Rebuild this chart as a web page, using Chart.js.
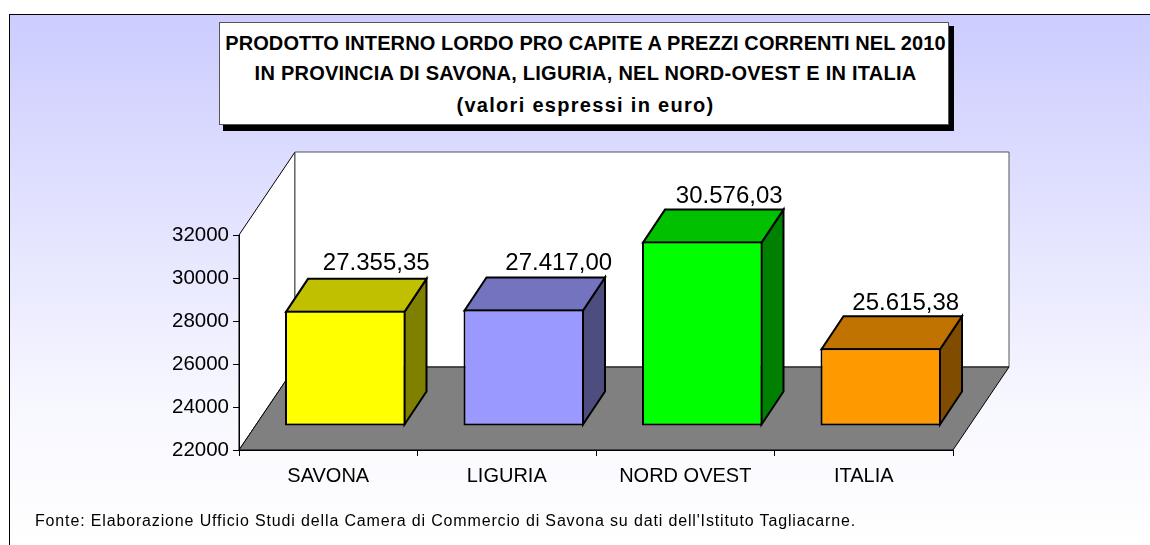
<html>

<head>
  <meta charset="utf-8">
  <title>PIL pro capite 2010</title>
  <style>
    html,
    body {
      margin: 0;
      padding: 0;
      background: #fff;
      overflow: hidden;
    }

    #frame {
      position: absolute;
      left: 9px;
      top: 14px;
      width: 1141px;
      height: 531px;
      border-top: 1px solid #000;
      border-left: 1px solid #000;
      box-sizing: border-box;
      background: linear-gradient(#ccccff 0%, #f7f7ff 73%, #ffffff 100%);
    }

    #chart {
      position: absolute;
      left: 0;
      top: 0;
    }

    #titleShadow {
      position: absolute;
      left: 223px;
      top: 26px;
      width: 731px;
      height: 105px;
      background: #000;
    }

    #titleBox {
      position: absolute;
      left: 219px;
      top: 22px;
      width: 730px;
      height: 103px;
      box-sizing: border-box;
      background: #fff;
      border: 1px solid #555;
      font: bold 20px "Liberation Sans";
      line-height: 30px;
      text-align: center;
      padding-top: 5px;
      padding-left: 3px;
      color: #000;
      white-space: nowrap;
    }

    #titleBox span {
      display: block;
    }

    #source {
      position: absolute;
      left: 35px;
      top: 512px;
      font: 16px "Liberation Sans";
      letter-spacing: 0.85px;
      color: #000;
      white-space: nowrap;
    }
  </style>
  <script src="https://cdn.jsdelivr.net/npm/chart.js@4"></script>
</head>

<body>
  <div id="frame"></div>
  <canvas id="chart" width="1150" height="545"></canvas>
  <div id="titleShadow"></div>
  <div id="titleBox">
    <span style="letter-spacing:0.1px">PRODOTTO INTERNO LORDO PRO CAPITE A PREZZI CORRENTI NEL 2010</span>
    <span style="letter-spacing:0.25px">IN PROVINCIA DI SAVONA, LIGURIA, NEL NORD-OVEST E IN ITALIA</span>
    <span style="letter-spacing:1.3px;padding-top:2px">(valori espressi in euro)</span>
  </div>
  <div id="source">Fonte: Elaborazione Ufficio Studi della Camera di Commercio di Savona su dati dell'Istituto Tagliacarne.</div>

  <script>
    const categories = ['SAVONA', 'LIGURIA', 'NORD OVEST', 'ITALIA'];
    const values = [27355.35, 27417.00, 30576.03, 25615.38];
    const valueLabels = ['27.355,35', '27.417,00', '30.576,03', '25.615,38'];
    const frontColors = ['#ffff00', '#9999ff', '#00ff00', '#ff9900'];
    const topColors = ['#c0c000', '#7373c0', '#00c000', '#c07300'];
    const sideColors = ['#808000', '#4d4d80', '#008000', '#804d00'];

    // 3d look: depth of the whole box and of one bar, in px
    const wallDx = 56, wallDy = 83;
    const barDx = 22, barDy = 33;
    const barShiftX = 17, barShiftY = 24;
    // excel puts the labels a bit differently on each bar
    const labelDx = [31, 35, 27, 25];
    const labelDy = [-14, -13, -12, -12];

    function poly(ctx, pts, fill, stroke, lw) {
      ctx.beginPath();
      pts.forEach(function (p, i) {
        if (i == 0) ctx.moveTo(p[0], p[1]); else ctx.lineTo(p[0], p[1]);
      });
      ctx.closePath();
      if (fill) {
        ctx.fillStyle = fill;
        ctx.fill();
      }
      if (stroke) {
        ctx.strokeStyle = stroke;
        ctx.lineWidth = lw;
        ctx.stroke();
      }
    }

    const box3d = {
      id: 'box3d',
      beforeDraw: function (chart) {
        const ctx = chart.ctx, a = chart.chartArea;
        const l = a.left, r = a.right, t = a.top, b = a.bottom;
        ctx.save();
        poly(ctx, [[l, t], [l + wallDx, t - wallDy], [l + wallDx, b - wallDy], [l, b]], '#fff', '#000', 1);
        poly(ctx, [[l + wallDx, t - wallDy], [r + wallDx, t - wallDy], [r + wallDx, b - wallDy], [l + wallDx, b - wallDy]], '#fff', '#555', 1);
        poly(ctx, [[l, b], [l + wallDx, b - wallDy], [r + wallDx, b - wallDy], [r, b]], '#808080', '#000', 1);
        ctx.restore();
      },
      beforeDatasetDraw: function (chart) {
        const ctx = chart.ctx;
        ctx.save();
        ctx.translate(barShiftX, -barShiftY);
        chart.getDatasetMeta(0).data.forEach(function (bar, i) {
          const x0 = bar.x - bar.width / 2, x1 = bar.x + bar.width / 2;
          poly(ctx, [[x1 - 1, bar.y + 1], [x1 + barDx - 1, bar.y - barDy + 1], [x1 + barDx - 1, bar.base - barDy - 1], [x1 - 1, bar.base - 1]], sideColors[i], '#000', 2);
          poly(ctx, [[x0 + 1, bar.y + 1], [x0 + barDx + 1, bar.y - barDy + 1], [x1 + barDx - 1, bar.y - barDy + 1], [x1 - 1, bar.y + 1]], topColors[i], '#000', 2);
        });
      },
      afterDatasetDraw: function (chart) {
        const ctx = chart.ctx;
        ctx.restore();
        ctx.save();
        ctx.font = '24px "Liberation Sans"';
        ctx.fillStyle = '#000';
        ctx.textAlign = 'center';
        ctx.textBaseline = 'middle';
        chart.getDatasetMeta(0).data.forEach(function (bar, i) {
          ctx.fillText(valueLabels[i], bar.x + barShiftX + labelDx[i], bar.y - barShiftY - barDy + labelDy[i]);
        });
        ctx.restore();
      }
    };

    new Chart(document.getElementById('chart'), {
      type: 'bar',
      plugins: [box3d],
      data: {
        labels: categories,
        datasets: [{
          data: values,
          base: 22000,
          clip: false,
          backgroundColor: frontColors,
          borderColor: '#000',
          borderWidth: 2,
          borderSkipped: false,
          barPercentage: 0.675,
          categoryPercentage: 1
        }]
      },
      options: {
        responsive: false,
        animation: false,
        layout: { padding: { left: 139, right: 197, top: 235, bottom: 45 } },
        plugins: { legend: { display: false }, tooltip: { enabled: false }, title: { display: false } },
        scales: {
          x: {
            afterFit: function (s) { s.height = 50; },
            border: { color: '#000' },
            grid: { display: true, drawOnChartArea: false, color: '#000', tickLength: 6 },
            ticks: { color: '#000', font: { family: 'Liberation Sans', size: 20 }, padding: 8, maxRotation: 0 }
          },
          y: {
            min: 22000,
            max: 32000,
            afterFit: function (s) { s.width = 100; },
            border: { color: '#000' },
            grid: { display: true, drawOnChartArea: false, color: '#000', tickLength: 6 },
            ticks: {
              stepSize: 2000,
              color: '#000',
              font: { family: 'Liberation Sans', size: 20.5 },
              padding: 4,
              callback: function (v) { return String(v); }
            }
          }
        }
      }
    });
  </script>
</body>

</html>
